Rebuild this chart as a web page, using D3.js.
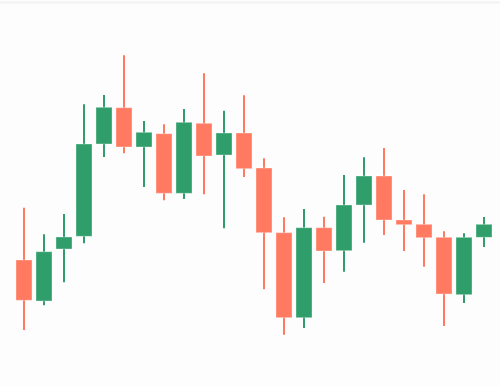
<!DOCTYPE html>
<html>
<head>
<meta charset="utf-8">
<script src="https://cdn.jsdelivr.net/npm/d3@7"></script>
<style>
  html, body { margin: 0; padding: 0; background: #fdfdfd; }
  svg { display: block; }
</style>
</head>
<body>
<svg width="500" height="386"></svg>
<script>
// Candle data (one entry per session)
const days = d3.range(1, 25).map(d => "D" + d);
const open  = [109.0, 104.9, 110.1, 111.37, 120.6, 124.23, 120.3, 121.63, 115.67, 122.67, 119.5, 121.7, 118.2, 111.73, 103.23, 112.23, 109.93, 114.5, 117.4, 113.0, 112.57, 111.27, 105.53, 111.27];
const close = [104.97, 109.83, 111.3, 120.6, 124.27, 120.3, 121.77, 115.67, 122.77, 119.4, 121.7, 118.13, 111.73, 103.23, 112.23, 109.9, 114.5, 117.4, 113.0, 112.53, 111.23, 105.6, 111.27, 112.57];
const high  = [114.23, 111.57, 113.6, 124.57, 125.5, 129.47, 122.9, 122.57, 124.1, 127.67, 123.93, 125.47, 119.17, 113.27, 114.1, 113.33, 117.5, 119.27, 120.2, 116.0, 115.57, 111.87, 111.67, 113.3];
const low   = [102.0, 104.47, 106.77, 110.67, 119.3, 119.67, 116.3, 114.97, 115.1, 115.57, 112.17, 117.3, 106.07, 101.53, 102.2, 106.7, 107.83, 110.73, 111.5, 109.9, 108.33, 102.4, 104.7, 110.3];

const upColor = "#2f9e6b";
const downColor = "#ff7a61";

const svg = d3.select("svg"),
    width = +svg.attr("width"),
    height = +svg.attr("height");

const data = days.map((d, i) => ({day: d, o: open[i], c: close[i], h: high[i], l: low[i]}));

const x = d3.scalePoint()
    .domain(days)
    .range([24, 484]);
const y = d3.scaleLinear()
    .domain([100, 130])
    .range([350, 50]);

const bodyW = x.step() * 0.8;

// background + faint top rule
svg.append("rect")
    .attr("width", width)
    .attr("height", height)
    .attr("fill", "#fdfdfd");
svg.append("line")
    .attr("x1", 0).attr("x2", width)
    .attr("y1", 2.5).attr("y2", 2.5)
    .attr("stroke", "#f2f2f2")
    .attr("stroke-width", 2);

const candle = svg.append("g")
    .selectAll("g")
    .data(data)
    .join("g")
    .attr("fill", d => d.c >= d.o ? upColor : downColor)
    .attr("stroke", d => d.c >= d.o ? upColor : downColor);

// wicks
candle.append("line")
    .attr("x1", d => x(d.day))
    .attr("x2", d => x(d.day))
    .attr("y1", d => y(d.h))
    .attr("y2", d => y(d.l))
    .attr("stroke-width", 2);

// bodies
candle.append("rect")
    .attr("x", d => x(d.day) - bodyW / 2)
    .attr("y", d => y(Math.max(d.o, d.c)))
    .attr("width", bodyW)
    .attr("height", d => Math.max(1, Math.abs(y(d.o) - y(d.c))))
    .attr("stroke", "#ffffff")
    .attr("stroke-opacity", 0.35)
    .attr("stroke-width", 1);
</script>
</body>
</html>
